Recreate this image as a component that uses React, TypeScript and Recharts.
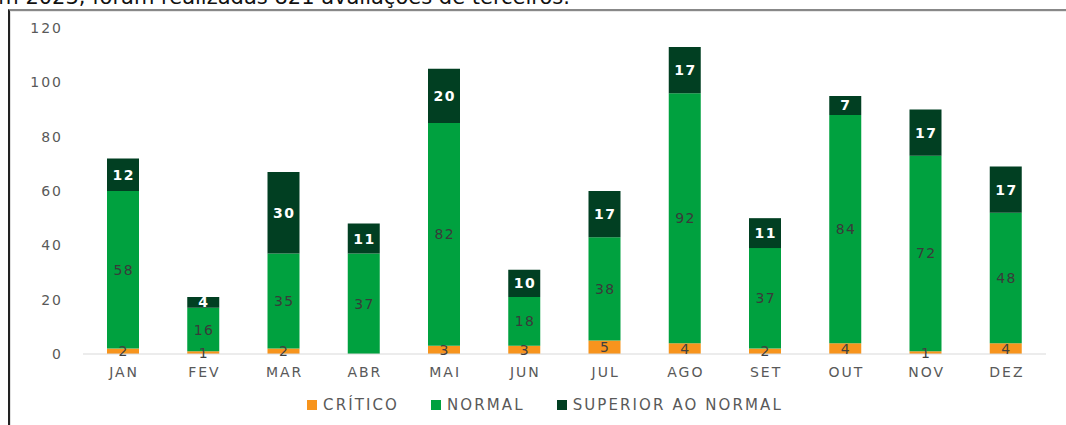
import React from 'react';
import { BarChart, Bar, XAxis, YAxis, Legend, LabelList } from 'recharts';

const months = ['JAN', 'FEV', 'MAR', 'ABR', 'MAI', 'JUN', 'JUL', 'AGO', 'SET', 'OUT', 'NOV', 'DEZ'];
const critico = [2, 1, 2, 0, 3, 3, 5, 4, 2, 4, 1, 4];
const normal = [58, 16, 35, 37, 82, 18, 38, 92, 37, 84, 72, 48];
const superior = [12, 4, 30, 11, 20, 10, 17, 17, 11, 7, 17, 17];
const yTicks = [0, 20, 40, 60, 80, 100, 120];

const data = months.map((m, i) => ({
    name: m,
    critico: critico[i],
    normal: normal[i],
    superior: superior[i],
}));

const FONT = '"DejaVu Sans", "Open Sans", sans-serif';

const makeLabel = (color: string, weight: number) => (props: any) => {
    const { x, y, width, height, value } = props;
    if (!value) return null;
    return (
        <text
            x={x + width / 2 + 0.7}
            y={y + height / 2}
            fill={color}
            fontSize={14}
            fontWeight={weight}
            fontFamily={FONT}
            letterSpacing={1.4}
            textAnchor="middle"
            dominantBaseline="central"
        >
            {value}
        </text>
    );
};

const LegendContent = (props: any) => {
    const { payload = [] } = props;
    return (
        <div style={{ display: 'flex', justifyContent: 'center', paddingLeft: 11, fontFamily: FONT, fontSize: 15, letterSpacing: 2.1, color: '#595959' }}>
            {payload.map((p: any, i: number) => (
                <div key={i} style={{ display: 'flex', alignItems: 'center', marginRight: i < payload.length - 1 ? 32 : 0 }}>
                    <span style={{ display: 'inline-block', width: 10, height: 10, background: p.color, marginRight: 6 }} />
                    <span>{p.value}</span>
                </div>
            ))}
        </div>
    );
};

const App: React.FC = () => {
    return (
        <div style={{ position: 'fixed', left: 0, top: 0, width: 1066, height: 425, overflow: 'hidden', background: '#fff' }}>
            <div
                style={{
                    position: 'absolute',
                    right: 496,
                    top: -15,
                    fontFamily: FONT,
                    fontSize: 21,
                    lineHeight: '24px',
                    color: '#111',
                    whiteSpace: 'nowrap',
                }}
            >
                Em 2023, foram realizadas 821 avaliações de terceiros.
            </div>
            <div
                style={{
                    position: 'absolute',
                    left: 8,
                    top: 9,
                    width: 1058,
                    height: 416,
                    borderLeft: '2px solid #222',
                    borderTop: '2px solid #888',
                }}
            >
                <div style={{ width: '100%', height: '100%', borderLeft: '1px solid #e0e0e0', borderTop: '1px solid #e8e8e8', boxSizing: 'border-box' }}>
                    <BarChart
                        width={1054}
                        height={412}
                        data={data}
                        margin={{ top: 16, right: 19, left: 22, bottom: 10 }}
                    >
                        <XAxis
                            dataKey="name"
                            tickLine={false}
                            axisLine={{ stroke: '#d9d9d9' }}
                            tick={{ fill: '#595959', fontSize: 14, fontFamily: FONT, letterSpacing: 2, dx: 1 }}
                            tickMargin={7}
                            height={42}
                        />
                        <YAxis
                            domain={[0, 120]}
                            ticks={yTicks}
                            tickLine={false}
                            axisLine={false}
                            tick={{ fill: '#595959', fontSize: 14, fontFamily: FONT, letterSpacing: 2 }}
                            tickMargin={14}
                            width={50}
                        />
                        <Legend content={LegendContent} />
                        <Bar dataKey="critico" name="CRÍTICO" stackId="a" fill="#F7941D" barSize={32} isAnimationActive={false}>
                            <LabelList dataKey="critico" content={makeLabel('#404040', 400)} />
                        </Bar>
                        <Bar dataKey="normal" name="NORMAL" stackId="a" fill="#00A13F" barSize={32} isAnimationActive={false}>
                            <LabelList dataKey="normal" content={makeLabel('#3a3a3a', 400)} />
                        </Bar>
                        <Bar dataKey="superior" name="SUPERIOR AO NORMAL" stackId="a" fill="#013F22" barSize={32} isAnimationActive={false}>
                            <LabelList dataKey="superior" content={makeLabel('#ffffff', 700)} />
                        </Bar>
                    </BarChart>
                </div>
            </div>
        </div>
    );
};

export default App;
